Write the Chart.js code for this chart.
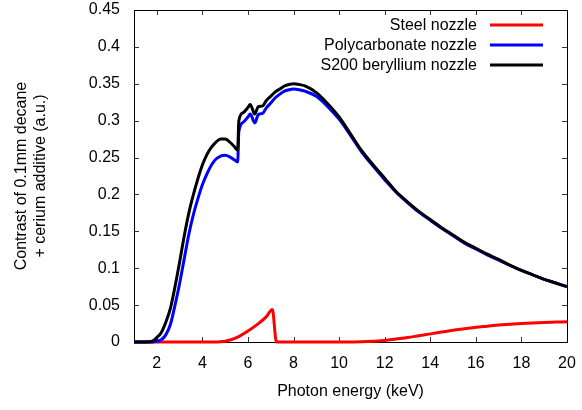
<!DOCTYPE html>
<html>
<head>
<meta charset="utf-8">
<script src="https://cdn.jsdelivr.net/npm/chart.js@4/dist/chart.umd.min.js"></script>
<style>
  html, body { margin: 0; padding: 0; background: #fff; }
</style>
</head>
<body>
<canvas id="chart-contrast" width="582" height="410"></canvas>
<script>
// photon energy [keV] for the two low-Z nozzles
var energy = [1, 1.5, 1.8, 2.0, 2.2, 2.4, 2.6, 2.8, 3.0, 3.2, 3.4, 3.6, 3.8, 4.0, 4.2, 4.4, 4.6, 4.8,
  5.0, 5.2, 5.4, 5.55, 5.6, 5.8, 6.0, 6.1, 6.3, 6.45, 6.65, 6.8, 7.0, 7.2, 7.4, 7.6, 7.8, 8.0,
  8.25, 8.5, 9, 9.5, 10, 10.5, 11, 11.5, 12, 12.5, 13, 13.5, 14, 14.5, 15, 15.5, 16, 16.5,
  17, 17.5, 18, 18.5, 19, 19.5, 20];

var berylliumContrast = [0, 0, 0.001, 0.006, 0.013, 0.027, 0.046, 0.075, 0.108, 0.143, 0.174, 0.199, 0.221, 0.240, 0.254, 0.264, 0.271, 0.275,
  0.275, 0.271, 0.265, 0.260, 0.300, 0.311, 0.318, 0.322, 0.309, 0.319, 0.320, 0.327, 0.333, 0.339, 0.343, 0.347, 0.349, 0.350,
  0.349, 0.347, 0.338, 0.323, 0.305, 0.282, 0.259, 0.240, 0.222, 0.204, 0.190, 0.177, 0.166, 0.155, 0.145, 0.135, 0.127, 0.119,
  0.112, 0.104, 0.097, 0.091, 0.085, 0.080, 0.075];

var polycarbonateContrast = [0, 0, 0, 0.001, 0.003, 0.010, 0.024, 0.050, 0.079, 0.112, 0.145, 0.172, 0.194, 0.213, 0.228, 0.240, 0.248, 0.252,
  0.253, 0.251, 0.247, 0.244, 0.285, 0.298, 0.305, 0.309, 0.297, 0.308, 0.310, 0.317, 0.324, 0.331, 0.336, 0.340, 0.342, 0.343,
  0.342, 0.340, 0.333, 0.319, 0.302, 0.280, 0.257, 0.238, 0.220, 0.203, 0.189, 0.176, 0.165, 0.154, 0.144, 0.134, 0.126, 0.118,
  0.111, 0.104, 0.097, 0.091, 0.085, 0.080, 0.075];

// steel nozzle has its own energy grid (edge at ~7.1 keV)
var steelEnergy = [1, 4.5, 5.0, 5.5, 6.0, 6.5, 6.8, 7.07, 7.25, 8, 10, 11, 11.5, 12, 12.5, 13, 13.5, 14, 14.5,
  15, 15.5, 16, 16.5, 17, 17.5, 18, 18.5, 19, 19.5, 20];
var steelContrast = [0, 0, 0.001, 0.006, 0.015, 0.026, 0.034, 0.044, 0, 0, 0, 0.0003, 0.001, 0.002, 0.004, 0.006, 0.0085, 0.011, 0.0135,
  0.016, 0.018, 0.020, 0.0215, 0.023, 0.024, 0.025, 0.0258, 0.0265, 0.027, 0.0275];

var seriesNames = ['Steel nozzle', 'Polycarbonate nozzle', 'S200 beryllium nozzle'];
var seriesColors = ['#ff0000', '#0000ff', '#000000'];

function toPoints(xs, ys) {
  return xs.map(function (x, i) { return { x: x, y: ys[i] }; });
}

var FONT = "'Liberation Sans', Arial, Helvetica, sans-serif";
Chart.defaults.font.family = FONT;
Chart.defaults.font.size = 16;
Chart.defaults.color = '#000';

// gnuplot style frame: box + inward ticks on all four sides
var framePlugin = {
  id: 'frame',
  beforeDatasetsDraw: function (chart) {
    var ctx = chart.ctx;
    var a = chart.chartArea;
    var xs = chart.scales.x, ys = chart.scales.y;
    ctx.save();
    ctx.strokeStyle = '#333';
    ctx.lineWidth = 1;
    ctx.beginPath();
    xs.ticks.forEach(function (t) {
      var px = Math.round(xs.getPixelForValue(t.value)) + 0.5;
      ctx.moveTo(px, a.bottom); ctx.lineTo(px, a.bottom - 5);
      ctx.moveTo(px, a.top); ctx.lineTo(px, a.top + 5);
    });
    ys.ticks.forEach(function (t) {
      var py = Math.round(ys.getPixelForValue(t.value)) + 0.5;
      ctx.moveTo(a.left, py); ctx.lineTo(a.left + 5, py);
      ctx.moveTo(a.right, py); ctx.lineTo(a.right - 5, py);
    });
    ctx.stroke();
    ctx.strokeStyle = '#000';
    ctx.strokeRect(Math.round(a.left) + 0.5, Math.round(a.top) + 0.5,
      Math.round(a.right - a.left), Math.round(a.bottom - a.top));
    ctx.restore();
  }
};

// key in the top right corner: text first, then the line sample
var keyPlugin = {
  id: 'key',
  afterDraw: function (chart) {
    var ctx = chart.ctx;
    ctx.save();
    ctx.font = '16px ' + FONT;
    ctx.textAlign = 'right';
    ctx.textBaseline = 'middle';
    seriesNames.forEach(function (name, i) {
      var y = 26 + i * 20;
      ctx.fillStyle = '#000';
      ctx.fillText(name, 477, y);
      ctx.strokeStyle = seriesColors[i];
      ctx.lineWidth = 3;
      ctx.beginPath();
      ctx.moveTo(490, y - 1);
      ctx.lineTo(543, y - 1);
      ctx.stroke();
    });
    ctx.restore();
  }
};

function lineSet(i, pts, order) {
  return {
    label: seriesNames[i],
    data: pts,
    borderColor: seriesColors[i],
    backgroundColor: seriesColors[i],
    borderWidth: 3,
    pointRadius: 0,
    showLine: true,
    cubicInterpolationMode: 'monotone',
    clip: false,
    order: order
  };
}

var chart = new Chart(document.getElementById('chart-contrast').getContext('2d'), {
  type: 'scatter',
  data: {
    datasets: [
      lineSet(0, toPoints(steelEnergy, steelContrast), 2),
      lineSet(1, toPoints(energy, polycarbonateContrast), 1),
      lineSet(2, toPoints(energy, berylliumContrast), 0)
    ]
  },
  options: {
    responsive: false,
    animation: false,
    layout: { padding: { left: 0, right: 15, top: 10, bottom: 0 } },
    plugins: { legend: { display: false }, tooltip: { enabled: false } },
    scales: {
      x: {
        type: 'linear',
        min: 1,
        max: 20,
        grid: { display: false, drawTicks: false },
        border: { display: false },
        ticks: { stepSize: 2, includeBounds: false, padding: 12, maxRotation: 0 },
        title: { display: true, text: 'Photon energy (keV)', padding: { top: 0, bottom: 9 } },
        afterFit: function (scale) {
          scale.height = 68;
          scale.paddingLeft = 0;
          scale.paddingRight = 0;
        }
      },
      y: {
        type: 'linear',
        min: 0,
        max: 0.45,
        grid: { display: false, drawTicks: false },
        border: { display: false },
        ticks: {
          stepSize: 0.05,
          padding: 14,
          callback: function (v) { return String(Number(v.toFixed(2))); }
        },
        title: {
          display: true,
          text: ['Contrast of 0.1mm decane', '+ cerium additive (a.u.)'],
          padding: { top: 12, bottom: 0 }
        },
        afterFit: function (scale) {
          scale.width = 134;
          scale.paddingTop = 0;
          scale.paddingBottom = 0;
        }
      }
    }
  },
  plugins: [framePlugin, keyPlugin]
});
</script>
</body>
</html>
